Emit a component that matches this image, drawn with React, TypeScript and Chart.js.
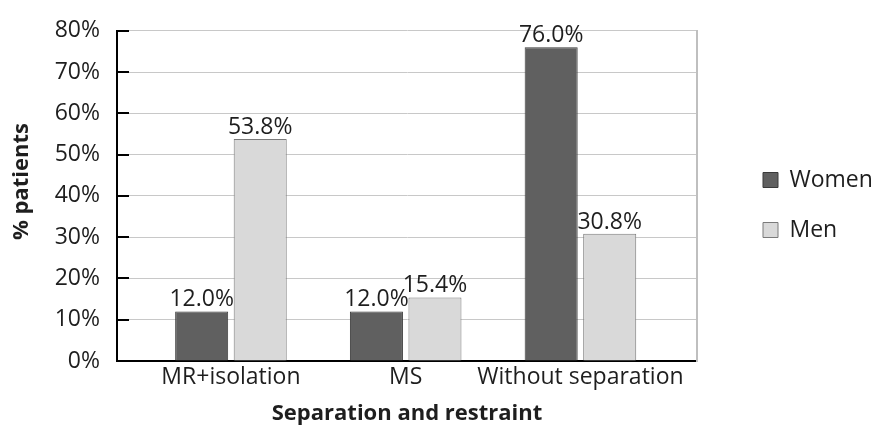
import React, { useEffect, useRef } from "react";
import { Chart, registerables } from "chart.js";

Chart.register(...registerables);

const categories = ["MR+isolation", "MS", "Without separation"];
const women = [12.0, 12.0, 76.0];
const men = [53.8, 15.4, 30.8];
const seriesNames = ["Women", "Men"];
const yTicks = [0, 10, 20, 30, 40, 50, 60, 70, 80];

const FONT = "'Open Sans', 'DejaVu Sans', sans-serif";

const valueLabels = {
  id: "valueLabels",
  afterDatasetsDraw(chart: any) {
    const ctx = chart.ctx;
    ctx.save();
    ctx.font = `23px ${FONT}`;
    ctx.fillStyle = "#1e1e1e";
    ctx.textAlign = "center";
    ctx.textBaseline = "alphabetic";
    chart.data.datasets.forEach((ds: any, di: number) => {
      const meta = chart.getDatasetMeta(di);
      meta.data.forEach((bar: any, i: number) => {
        const v = ds.data[i].y;
        ctx.fillText(v.toFixed(1) + "%", bar.x, bar.y - 5);
      });
    });
    ctx.restore();
  },
  afterDraw(chart: any) {
    const ctx = chart.ctx;
    const ys = chart.scales.y;
    const left = chart.chartArea.left;
    ctx.save();
    ctx.strokeStyle = "#000";
    ctx.lineWidth = 2;
    ys.ticks.forEach((t: any) => {
      const py = Math.round(ys.getPixelForValue(t.value));
      ctx.beginPath();
      ctx.moveTo(left, py);
      ctx.lineTo(left + 12, py);
      ctx.stroke();
    });
    ctx.restore();
  },
};

export default function App() {
  const ref = useRef<HTMLCanvasElement>(null);
  useEffect(() => {
    if (!ref.current) return;
    const chart = new Chart(ref.current, {
      type: "bar",
      data: {
        datasets: [
          {
            label: seriesNames[0],
            data: women.map((v, i) => ({ x: i, y: v })),
            backgroundColor: "#606060",
            borderColor: "#3a3a3a",
            borderWidth: 1,
          },
          {
            label: seriesNames[1],
            data: men.map((v, i) => ({ x: i, y: v })),
            backgroundColor: "#d9d9d9",
            borderColor: "#7a7a7a",
            borderWidth: 1,
          },
        ],
      },
      options: {
        animation: false,
        responsive: true,
        maintainAspectRatio: false,
        devicePixelRatio: 1,
        datasets: {
          bar: { categoryPercentage: 0.67, barPercentage: 0.906, grouped: true },
        },
        layout: { padding: { top: -17, left: 0, right: 0, bottom: 0 } },
        scales: {
          x: {
            type: "linear",
            offset: false,
            min: -0.652,
            max: 2.667,
            afterBuildTicks: (scale: any) => {
              scale.ticks = categories.map((_, i) => ({ value: i }));
            },
            afterFit: (scale: any) => {
              scale.height = 66;
            },
            grid: { display: false, drawTicks: false, offset: false },
            border: { display: true, color: "#000", width: 2 },
            ticks: {
              autoSkip: false,
              maxRotation: 0,
              padding: 3,
              color: "#1e1e1e",
              font: { family: FONT, size: 23 },
              callback: (v: any) => categories[v as number] ?? "",
            },
            title: {
              display: true,
              text: "Separation and restraint",
              color: "#1e1e1e",
              font: { family: FONT, size: 22, weight: "bold" },
              padding: { top: 0, bottom: 0 },
            },
          },
          y: {
            min: 0,
            max: 80,
            afterBuildTicks: (scale: any) => {
              scale.ticks = yTicks.map((v) => ({ value: v }));
            },
            afterFit: (scale: any) => {
              scale.width = 117;
            },
            grid: { color: "#c8c8c8", lineWidth: 1, drawTicks: false },
            border: { display: true, color: "#000", width: 2 },
            ticks: {
              padding: 17,
              color: "#1e1e1e",
              font: { family: FONT, size: 23 },
              callback: (v: any) => v + "%",
            },
            title: {
              display: true,
              text: "     % patients",
              color: "#1e1e1e",
              font: { family: FONT, size: 22, weight: "bold" },
              padding: { top: 9, bottom: 0 },
            },
          },
          y2: {
            position: "right",
            display: true,
            afterFit: (scale: any) => {
              scale.width = 39;
            },
            grid: { display: false, drawTicks: false },
            border: { display: true, color: "#bfbfbf", width: 2 },
            ticks: { display: false },
          },
        },
        plugins: {
          title: {
            display: true,
            text: "",
            fullSize: false,
            padding: 0,
            font: { family: FONT, size: 20, lineHeight: 2 },
          },
          legend: {
            position: "right",
            maxWidth: 137,
            labels: {
              boxWidth: 15,
              boxHeight: 15,
              padding: 27,
              color: "#1e1e1e",
              font: { family: FONT, size: 23 },
            },
          },
          tooltip: { enabled: false },
        },
      },
      plugins: [valueLabels],
    } as any);
    return () => chart.destroy();
  }, []);
  return (
    <div style={{ position: "fixed", left: 0, top: 0, width: 873, height: 427, background: "#fff" }}>
      <canvas ref={ref} />
    </div>
  );
}
